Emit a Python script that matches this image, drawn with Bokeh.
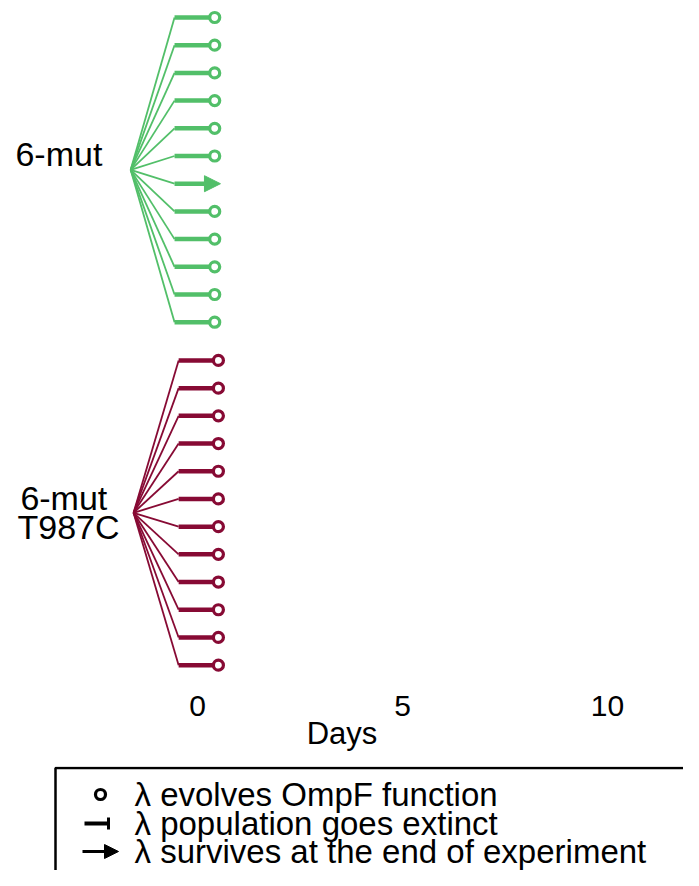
from bokeh.plotting import figure
from bokeh.models import Range1d, ColumnDataSource, Arrow, NormalHead, FixedTicker
from bokeh.layouts import column
from bokeh.embed import file_html
from bokeh.resources import INLINE
from bokeh.core.properties import value

# ---------------- data ----------------
group_names = ["6-mut", "6-mut T987C"]
group_colors = ["#52BF69", "#870A34"]
# outcome per replicate population
outcomes_6mut = ["ompf", "ompf", "ompf", "ompf", "ompf", "ompf",
                 "survive", "ompf", "ompf", "ompf", "ompf", "ompf"]
outcomes_t987c = ["ompf"] * 12
# day at which the outcome happened (end of the branch)
end_day_6mut = [0.42, 0.42, 0.42, 0.42, 0.42, 0.42,
                0.56, 0.42, 0.42, 0.42, 0.42, 0.42]
end_day_t987c = [0.51] * 12
x_ticks = [0, 5, 10]
legend_labels = ["\u03bb evolves OmpF function",
                 "\u03bb population goes extinct",
                 "\u03bb survives at the end of experiment"]

FONT = "Liberation Sans"

# ---------------- layout helpers ----------------
root_x = [-1.63, -1.56]
split_x = [-0.56, -0.46]
row_offset = [0.0, 12.38]

TOP_H = 766
p = figure(width=683, height=TOP_H, output_backend="svg", toolbar_location=None,
           x_range=Range1d(-4.805, 11.854), y_range=Range1d(24.44, -0.614),
           min_border_left=0, min_border_right=0, min_border_top=0,
           min_border_bottom=72, y_axis_location=None)
p.outline_line_color = None
p.grid.visible = False
p.background_fill_color = "white"

groups = [(outcomes_6mut, end_day_6mut), (outcomes_t987c, end_day_t987c)]
for g, (outs, days) in enumerate(groups):
    col = group_colors[g]
    n = len(outs)
    rows = [row_offset[g] + i for i in range(n)]
    center = row_offset[g] + (n - 1) / 2.0
    fan = ColumnDataSource(dict(x0=[root_x[g]] * n, y0=[center] * n,
                                x1=[split_x[g]] * n, y1=rows))
    p.segment("x0", "y0", "x1", "y1", source=fan, line_color=col, line_width=1.8)
    hx0, hx1, hy, cx, cy = [], [], [], [], []
    for i, (o, d) in enumerate(zip(outs, days)):
        if o == "survive":
            p.add_layout(Arrow(end=NormalHead(size=16, fill_color=col, line_color=col, line_width=1),
                               x_start=split_x[g], y_start=rows[i], x_end=d, y_end=rows[i],
                               line_color=col, line_width=4.5))
        else:
            hx0.append(split_x[g]); hx1.append(d); hy.append(rows[i])
            cx.append(d); cy.append(rows[i])
    p.segment(x0=hx0, y0=hy, x1=hx1, y1=hy, line_color=col, line_width=4.5)
    p.scatter(x=cx, y=cy, marker="circle", size=10, line_color=col, line_width=3.2,
              fill_color="white")

# group labels
p.text(x=[-4.44], y=[4.92], text=[group_names[0]], text_font=value(FONT),
       text_font_size="34px", text_baseline="middle", text_color="black")
p.text(x=[-4.32, -4.39], y=[17.33, 18.41], text=group_names[1].split(" "),
       text_font=value(FONT), text_font_size="34px", text_baseline="middle",
       text_color="black")

ax = p.xaxis[0]
ax.ticker = FixedTicker(ticks=x_ticks)
ax.axis_label = "Days"
ax.axis_line_color = None
ax.major_tick_line_color = None
ax.minor_tick_line_color = None
ax.major_tick_out = 0
ax.major_label_standoff = 1
ax.axis_label_standoff = -3
ax.major_label_text_font = FONT
ax.major_label_text_font_size = "30px"
ax.major_label_text_color = "black"
ax.axis_label_text_font = FONT
ax.axis_label_text_font_size = "31px"
ax.axis_label_text_font_style = "normal"
ax.axis_label_text_color = "black"

# ---------------- legend panel ----------------
LH = 870 - TOP_H
L = figure(width=683, height=LH, output_backend="svg", toolbar_location=None,
           x_range=Range1d(0, 683), y_range=Range1d(LH, 0),
           min_border=0, x_axis_location=None, y_axis_location=None)
L.outline_line_color = None
L.grid.visible = False
L.quad(left=[55], right=[760], top=[1.5], bottom=[400], fill_color=None,
       line_color="black", line_width=2.5)
rows_y = [28, 57, 85]
L.scatter(x=[100], y=[rows_y[0]], marker="circle", size=10, line_color="black",
          line_width=3.2, fill_color="white")
L.segment(x0=[84], y0=[rows_y[1]], x1=[108], y1=[rows_y[1]], line_color="black", line_width=4)
L.segment(x0=[108], y0=[rows_y[1] - 6], x1=[108], y1=[rows_y[1] + 6], line_color="black", line_width=3)
L.add_layout(Arrow(end=NormalHead(size=14, fill_color="black", line_color="black", line_width=1),
                   x_start=82, y_start=rows_y[2], x_end=118, y_end=rows_y[2],
                   line_color="black", line_width=3))
L.text(x=[134] * 3, y=rows_y, text=legend_labels, text_font=value(FONT),
       text_font_size="33px", text_baseline="middle", text_color="black")

layout = column(p, L, spacing=0)
open("out.html", "w").write(file_html(layout, INLINE))
